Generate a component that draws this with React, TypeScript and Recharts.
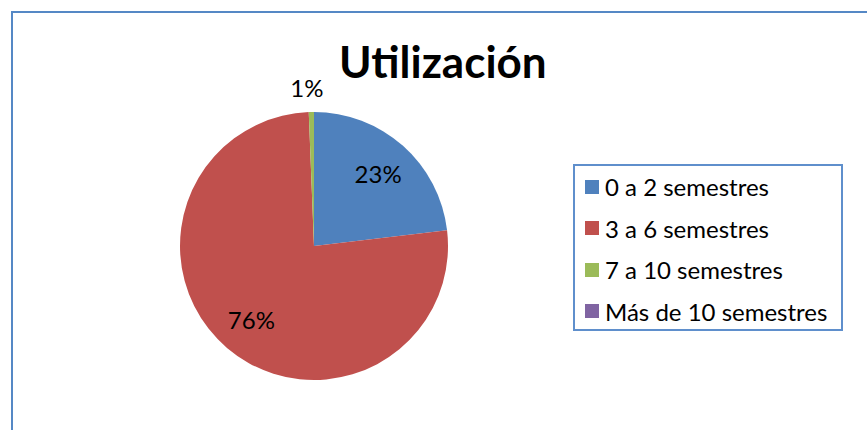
import { PieChart, Pie, Cell } from 'recharts';

// categories and counts (rounded shares 23 / 76 / 1 / 0 %)
const categories = ['0 a 2 semestres', '3 a 6 semestres', '7 a 10 semestres', 'Más de 10 semestres'];
const counts = [37, 122, 1, 0];
const COLORS = ['#4F81BD', '#C0504D', '#9BBB59', '#8064A2'];

const data = categories.map((name, i) => ({ name, value: counts[i] }));

const FONT = 'Lato, "Liberation Sans", sans-serif';
const RAD = Math.PI / 180;

function renderLabel(props: any) {
	const { cx, cy, midAngle, outerRadius, percent } = props;
	if (!percent) return null;
	// small slices get their label outside, like the original
	const r = percent < 0.05 ? outerRadius * 1.18 : outerRadius * 0.72;
	const x = cx + r * Math.cos(-midAngle * RAD) - (percent < 0.05 ? 4 : 0);
	const y = cy + r * Math.sin(-midAngle * RAD);
	return (
		<text x={x} y={y} textAnchor="middle" dominantBaseline="central" fill="#000" fontSize={24} fontFamily={FONT}>
			{Math.round(percent * 100)}%
		</text>
	);
}

function LegendBox() {
	return (
		<div style={{ position: 'absolute', left: 573, top: 164, width: 270, height: 167, border: '2px solid #5F8FCC', boxSizing: 'border-box', padding: '0 0 0 10px', fontFamily: FONT, fontSize: 24, color: '#000' }}>
			{data.map((d, i) => (
				<div key={d.name} style={{ display: 'flex', alignItems: 'center', height: 41.5, whiteSpace: 'nowrap' }}>
					<span style={{ width: 14, height: 14, background: COLORS[i], marginRight: 6, flexShrink: 0 }} />
					{d.name}
				</div>
			))}
		</div>
	);
}

export default function App() {
	return (
		<div style={{ position: 'absolute', left: 0, top: 0, width: 867, height: 430, overflow: 'hidden', background: '#fff' }}>
			{/* chart area frame, runs off the right and bottom edge */}
			<div style={{ position: 'absolute', left: 11, top: 11, width: 900, height: 500, border: '2px solid #5588C5' }} />
			<div style={{ position: 'absolute', left: 0, top: 0 }}>
				<PieChart width={867} height={430} margin={{ top: 0, right: 0, bottom: 0, left: 0 }}>
					<Pie
						data={data}
						dataKey="value"
						nameKey="name"
						cx={314}
						cy={246}
						outerRadius={134}
						startAngle={90}
						endAngle={-270}
						stroke="none"
						label={renderLabel}
						labelLine={false}
						isAnimationActive={false}
					>
						{data.map((_, i) => (
							<Cell key={`cell-${i}`} fill={COLORS[i]} />
						))}
					</Pie>
				</PieChart>
			</div>
			<LegendBox />
			<div style={{ position: 'absolute', left: 339, top: 35, fontFamily: FONT, fontWeight: 700, fontSize: 44, color: '#000', whiteSpace: 'nowrap' }}>
				Utilización
			</div>
		</div>
	);
}
